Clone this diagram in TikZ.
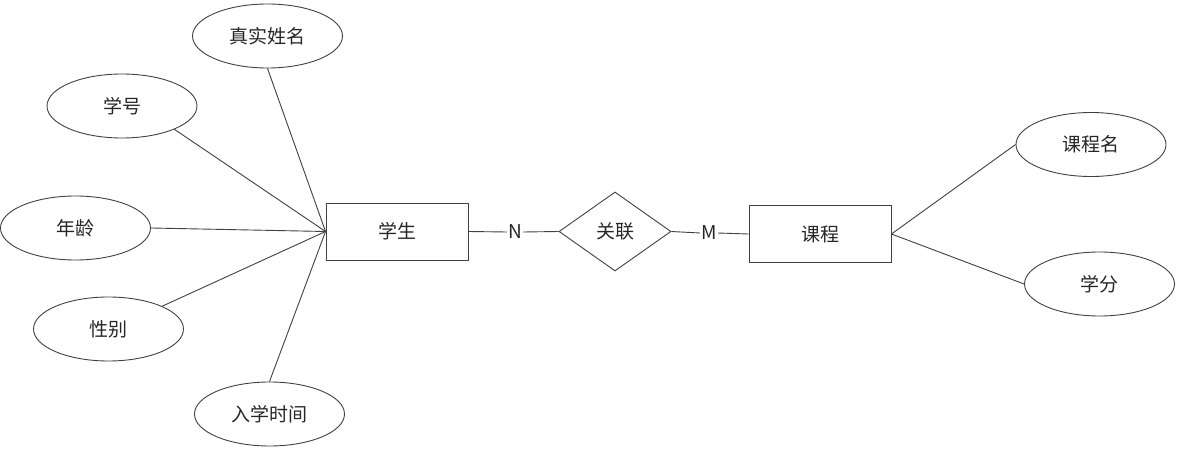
\documentclass[tikz,border=0pt]{standalone}
\usepackage{fontspec}
\setmainfont{Noto Sans CJK SC}
\usetikzlibrary{shapes.geometric}
\begin{document}
\begin{tikzpicture}[x=1pt,y=-1pt,
  every node/.style={font=\fontsize{19}{23}\selectfont, text=black!85},
  attr/.style={draw=black!75, line width=0.9pt, ellipse, minimum width=150pt, minimum height=64pt, inner sep=0pt},
  ent/.style={draw=black!75, line width=0.9pt, rectangle, minimum width=142pt, minimum height=57pt, inner sep=0pt},
  rel/.style={draw=black!75, line width=0.9pt, diamond, minimum width=112pt, minimum height=79pt, inner sep=0pt},
  card/.style={inner sep=1pt},
  link/.style={draw=black!75, line width=0.9pt}]
\useasboundingbox (0,0) rectangle (1181,454);
\node[attr] (zs) at (267.5,36) {真实姓名};
\node[attr] (xh) at (122,106) {学号};
\node[attr] (nl) at (75.5,228) {年龄};
\node[attr] (xb) at (108.5,329) {性别};
\node[attr] (rx) at (269.5,414) {入学时间};
\node[ent] (st) at (397,231.5) {学生};
\node[card] (N) at (515,232) {N};
\node[rel] (gl) at (615,231.5) {关联};
\node[card] (M) at (709,233) {M};
\node[ent] (kc) at (820,234) {课程};
\node[attr] (kcm) at (1091,144.5) {课程名};
\node[attr] (xf) at (1099.5,284) {学分};
\draw[link] (zs.south) -- (st.west);
\draw[link] (xh.-24) -- (st.west);
\draw[link] (nl.east) -- (st.west);
\draw[link] (xb.23) -- (st.west);
\draw[link] (rx.north) -- (st.west);
\draw[link] (st.east) -- (N.west);
\draw[link] (N.east) -- (gl.west);
\draw[link] (gl.east) -- (M.west);
\draw[link] (M.east) -- (kc.west);
\draw[link] (kc.east) -- (kcm.west);
\draw[link] (kc.east) -- (xf.west);
\end{tikzpicture}
\end{document}
